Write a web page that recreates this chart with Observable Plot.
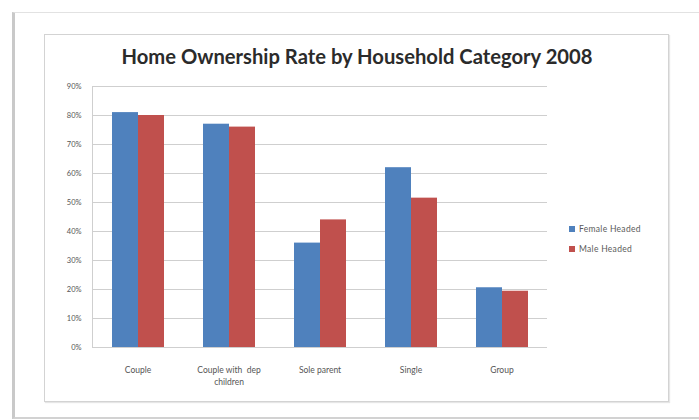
<!DOCTYPE html>
<html>
<head>
<meta charset="utf-8">
<script src="https://cdn.jsdelivr.net/npm/d3@7"></script>
<script src="https://cdn.jsdelivr.net/npm/@observablehq/plot@0.6"></script>
<style>
  html, body { margin: 0; padding: 0; background: #fff; }
  #page { position: relative; width: 699px; height: 420px; overflow: hidden; background: #fff; font-family: Lato, "Open Sans", sans-serif; }
  #outer { position: absolute; left: 12px; top: 12px; width: 720px; height: 404px;
           border-left: 3px solid #c9c9c9; border-top: 1px solid #e2e2e2; border-bottom: 2px solid #d2d2d2; }
  #inner { position: absolute; left: 44px; top: 34px; width: 623px; height: 366px;
           border: 1px solid #d3d3d3; box-shadow: 1px 1px 1px #e6e6e6; }
  #title { position: absolute; left: 44px; width: 626px; top: 44px; text-align: center;
           font-family: Lato, sans-serif; font-weight: bold; font-size: 20.2px; color: #2b2b2b; }
  #chart { position: absolute; left: 0; top: 0; }
  #legend { position: absolute; left: 569px; top: 219px; font-size: 8.5px; color: #5a5a5a; letter-spacing: 0.3px; }
  .item { display: flex; align-items: center; height: 20px; }
  .sw { width: 6px; height: 6px; margin-right: 4px; }
</style>
</head>
<body>
<div id="page">
  <div id="outer"></div>
  <div id="inner"></div>
  <div id="chart"></div>
  <div id="title">Home Ownership Rate by Household Category 2008</div>
  <div id="legend"></div>
</div>
<script>
const categories = ["Couple", "Couple with dep children", "Sole parent", "Single", "Group"];
const categoryLabels = ["Couple", "Couple with  dep\nchildren", "Sole parent", "Single", "Group"];
const series = ["Female Headed", "Male Headed"];
const femaleHeaded = [81, 77, 36, 62, 20.6];
const maleHeaded = [80, 76, 44, 51.5, 19.4];
const yTicks = [0, 10, 20, 30, 40, 50, 60, 70, 80, 90];
const colors = ["#4F81BD", "#C0504D"];

const data = categories.flatMap((c, i) => [
  {category: c, series: series[0], value: femaleHeaded[i]},
  {category: c, series: series[1], value: maleHeaded[i]}
]);

const chart = Plot.plot({
  width: 699,
  height: 420,
  marginLeft: 90,
  marginRight: 151,
  marginTop: 86,
  marginBottom: 73,
  style: {background: "transparent", fontFamily: "Lato, sans-serif", overflow: "visible"},
  fx: {domain: categories, padding: 0, label: null},
  x: {domain: series, paddingInner: 0, paddingOuter: 0.73, axis: null},
  y: {domain: [0, 90], label: null},
  color: {domain: series, range: colors},
  marks: [
    Plot.gridY(yTicks, {stroke: "#cfcfcf", strokeOpacity: 1, strokeWidth: 1}),
    Plot.frame({anchor: "left", facetAnchor: "left", stroke: "#cfcfcf"}),
    Plot.barY(data, {fx: "category", x: "series", y: "value", fill: "series", inset: 0}),
    Plot.axisY(yTicks, {tickSize: 0, tickPadding: 11, tickFormat: d => d + "%", fontSize: 7.5, fill: "#555", label: null}),
    Plot.axisFx({anchor: "bottom", tickSize: 0, tickPadding: 16, fontSize: 8.5, lineHeight: 1.5, fill: "#555", label: null,
      tickFormat: d => categoryLabels[categories.indexOf(d)]})
  ]
});
document.getElementById("chart").appendChild(chart);

const legend = document.getElementById("legend");
series.forEach((s, i) => {
  const item = document.createElement("div");
  item.className = "item";
  const sw = document.createElement("span");
  sw.className = "sw";
  sw.style.background = colors[i];
  const t = document.createElement("span");
  t.textContent = s;
  item.appendChild(sw);
  item.appendChild(t);
  legend.appendChild(item);
});
</script>
</body>
</html>
